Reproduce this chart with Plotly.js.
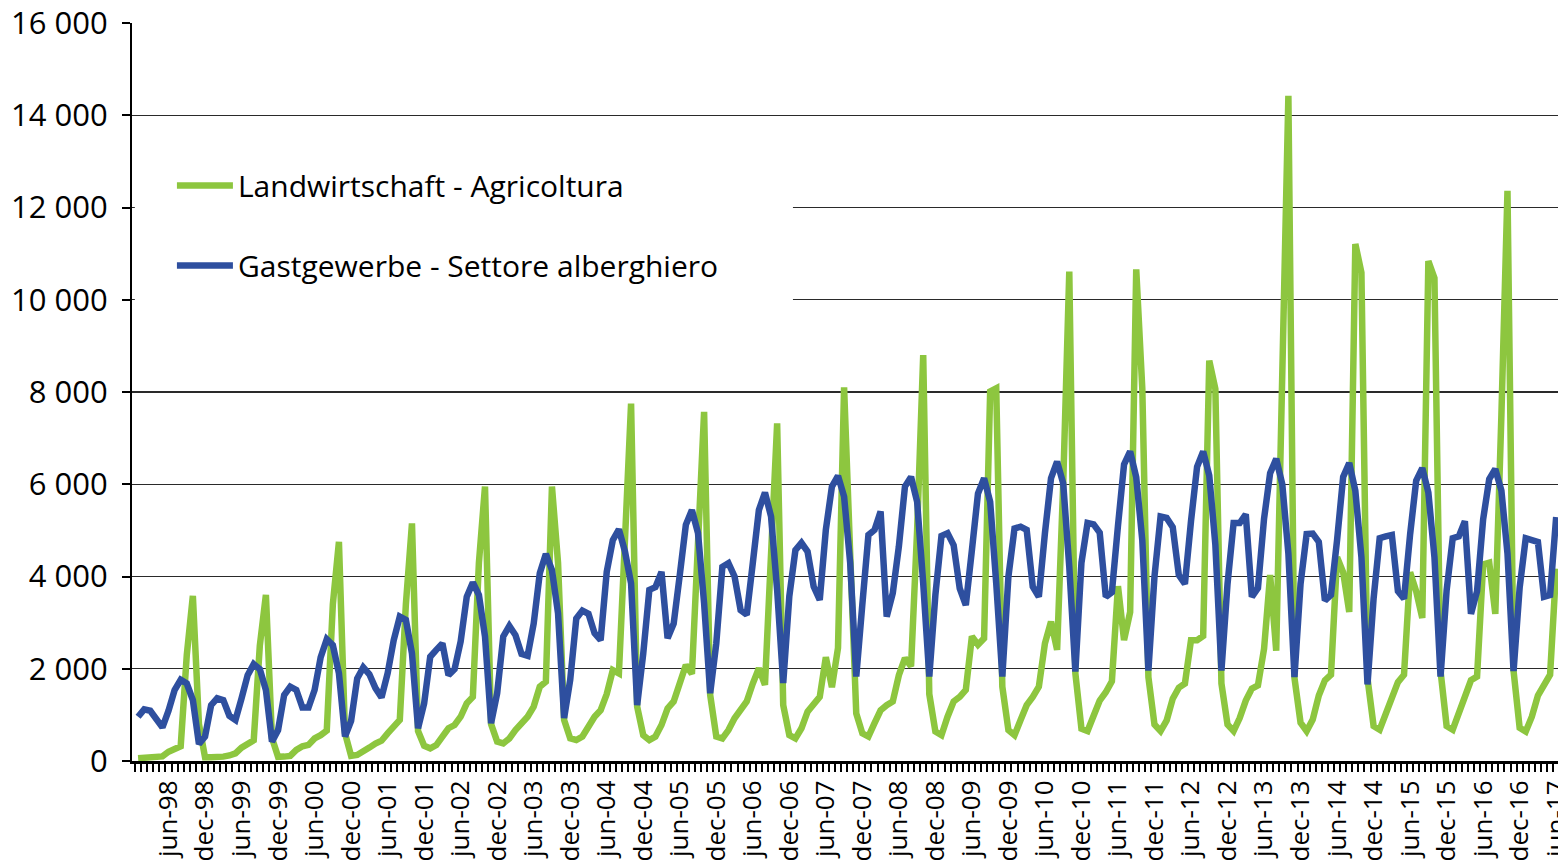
<!DOCTYPE html>
<html>
<head>
<meta charset="utf-8">
<script src="https://cdn.plot.ly/plotly-3.0.1.min.js"></script>
<style>
  html, body { margin: 0; padding: 0; background: #ffffff; }
  #chart { width: 1558px; height: 863px; }
</style>
</head>
<body>
<div id="chart"></div>
<script>
// ---- data (monthly, Jan 1998 - Jun 2017) ----
const monthNames = ['jan','feb','mar','apr','mai','jun','jul','aug','sep','okt','nov','dec'];
const years = [98,99,0,1,2,3,4,5,6,7,8,9,10,11,12,13,14,15,16,17];

const landwirtschaft = [
  60, 70, 80, 90, 100, 200, 270, 320, 2300, 3580, 800, 80,
  80, 80, 95, 120, 165, 290, 380, 450, 2500, 3600, 500, 90,
  95, 110, 240, 320, 350, 490, 560, 660, 3400, 4750, 600, 110,
  130, 200, 290, 380, 440, 600, 745, 890, 3400, 5150, 650, 330,
  275, 345, 530, 710, 780, 960, 1250, 1390, 4300, 5950, 800, 420,
  380, 490, 670, 820, 960, 1180, 1610, 1720, 5950, 4300, 890, 490,
  455, 530, 745, 960, 1100, 1450, 1970, 1900, 4800, 7750, 1180, 560,
  455, 530, 780, 1140, 1290, 1720, 2080, 1890, 4700, 7570, 1430, 530,
  490, 670, 925, 1140, 1290, 1680, 2010, 1650, 4400, 7320, 1210, 560,
  490, 710, 1070, 1210, 1390, 2250, 1600, 2450, 8100, 4500, 1030, 600,
  530, 820, 1100, 1210, 1290, 1860, 2230, 2050, 5000, 8800, 1450, 640,
  560, 960, 1290, 1390, 1540, 2700, 2520, 2660, 8010, 8080, 1610, 670,
  560, 890, 1210, 1390, 1610, 2550, 3020, 2410, 6000, 10610, 1900, 700,
  650, 980, 1310, 1490, 1730, 3790, 2620, 3230, 10660, 8070, 1820, 790,
  650, 880, 1350, 1590, 1680, 2620, 2620, 2710, 8680, 8070, 1680, 790,
  650, 930, 1310, 1570, 1640, 2430, 4030, 2390, 8000, 14420, 1800, 830,
  650, 900, 1420, 1750, 1870, 4420, 4090, 3230, 11210, 10590, 1790, 760,
  680, 1050, 1420, 1710, 1870, 4090, 3680, 3100, 10840, 10470, 1950, 760,
  680, 1050, 1460, 1750, 1830, 4260, 4300, 3190, 7500, 12360, 1950, 720,
  640, 960, 1420, 1620, 1870, 4170
];

const gastgewerbe = [
  960, 1120, 1090, 900, 730, 1090, 1540, 1760, 1680, 1320, 370, 530,
  1210, 1360, 1320, 980, 890, 1360, 1860, 2100, 1990, 1540, 420, 670,
  1430, 1610, 1540, 1160, 1160, 1540, 2250, 2640, 2510, 1900, 530, 870,
  1790, 2030, 1880, 1580, 1380, 1900, 2620, 3130, 3060, 2330, 710, 1250,
  2260, 2410, 2550, 1860, 1990, 2590, 3560, 3870, 3600, 2700, 820, 1470,
  2700, 2930, 2730, 2320, 2280, 2980, 4070, 4490, 4140, 3200, 930, 1760,
  3090, 3260, 3190, 2770, 2620, 4100, 4790, 5020, 4540, 3850, 1210, 2330,
  3710, 3770, 4100, 2660, 2980, 4030, 5120, 5440, 4940, 3420, 1470, 2550,
  4210, 4290, 4000, 3270, 3170, 4290, 5440, 5820, 5300, 3710, 1690, 3570,
  4570, 4730, 4540, 3780, 3490, 5010, 5950, 6180, 5730, 4300, 1830, 3400,
  4900, 5010, 5410, 3130, 3640, 4650, 5950, 6160, 5620, 3850, 1830, 3600,
  4880, 4940, 4680, 3740, 3380, 4570, 5800, 6130, 5620, 3850, 1830, 4000,
  5040, 5080, 5010, 3780, 3560, 4940, 6130, 6490, 6020, 4210, 1940, 4300,
  5160, 5130, 4950, 3560, 3660, 5100, 6430, 6710, 6150, 4780, 1960, 4000,
  5300, 5270, 5070, 4030, 3840, 5200, 6380, 6710, 6190, 4690, 1960, 3840,
  5160, 5160, 5350, 3560, 3750, 5250, 6240, 6550, 6000, 4500, 1820, 3840,
  4920, 4930, 4750, 3480, 3600, 4790, 6160, 6460, 5860, 4420, 1660, 3520,
  4830, 4870, 4900, 3680, 3520, 4910, 6080, 6350, 5820, 4420, 1830, 3700,
  4830, 4870, 5200, 3190, 3680, 5240, 6110, 6330, 5860, 4500, 1950, 3760,
  4830, 4790, 4750, 3560, 3600, 5290
];

const seriesNames = ['Landwirtschaft - Agricoltura', 'Gastgewerbe - Settore alberghiero'];

// month category labels
const months = [];
years.forEach(y => {
  const yy = String(y).padStart(2, '0');
  monthNames.forEach(m => months.push(m + '-' + yy));
});
months.length = landwirtschaft.length;

// axis labels: every June and December
const tickLabels = months.filter(m => m.startsWith('jun') || m.startsWith('dec'));
const tickPos = tickLabels.map(l => months.indexOf(l));
const xIndex = months.map((m, i) => i);

const yTicks = [0, 2000, 4000, 6000, 8000, 10000, 12000, 14000, 16000];

const FONT = '"Open Sans", "Noto Sans", sans-serif';

const traces = [
  {
    x: xIndex, y: landwirtschaft, text: months, name: seriesNames[0],
    type: 'scatter', mode: 'lines', legendgroup: 'a',
    line: { color: '#8dc63f', width: 6.5 }
  },
  {
    x: xIndex, y: gastgewerbe, text: months, name: seriesNames[1],
    type: 'scatter', mode: 'lines', legendgroup: 'b',
    line: { color: '#2e4f9f', width: 6.5 }
  }
];

const layout = {
  width: 1558, height: 863,
  margin: { l: 132, r: 0, t: 23, b: 102, pad: 0 },
  paper_bgcolor: '#ffffff', plot_bgcolor: '#ffffff',
  separators: ', ',
  font: { family: FONT, color: '#000000' },
  showlegend: true,
  legend: {
    x: 0.028, y: 0.815, xanchor: 'left', yanchor: 'top',
    bgcolor: 'rgba(0,0,0,0)', borderwidth: 0,
    font: { family: FONT, size: 30, color: '#000' },
    tracegroupgap: 38, itemwidth: 56
  },
  xaxis: {
    type: 'linear', range: [-1, 233.3],
    showgrid: false, zeroline: false,
    showline: true, linecolor: '#000', linewidth: 3,
    tickmode: 'array', tickvals: tickPos, ticktext: tickLabels,
    ticks: '', tickangle: -90,
    tickfont: { family: FONT, size: 26, color: '#000' },
    ticklabelstandoff: 6,
    ticklabeloverflow: 'allow',
    minor: { ticks: 'outside', tick0: 0.5, dtick: 1, ticklen: 8, tickwidth: 2, tickcolor: '#000', showgrid: false }
  },
  yaxis: {
    range: [0, 16000],
    tickmode: 'array', tickvals: yTicks,
    tickformat: ',d',
    showgrid: true, gridcolor: '#2a2a2a', gridwidth: 1.2,
    zeroline: false,
    showline: true, linecolor: '#000', linewidth: 2,
    ticks: 'outside', ticklen: 8, tickwidth: 2, tickcolor: '#000',
    tickfont: { family: FONT, size: 31, color: '#000' },
    ticklabelstandoff: 8
  },
  shapes: [
    { type: 'rect', xref: 'paper', yref: 'y', x0: 0.002, x1: 0.4635, y0: 9500, y1: 13300,
      fillcolor: '#ffffff', line: { width: 0 }, layer: 'above' }
  ]
};

Plotly.newPlot('chart', traces, layout, { displayModeBar: false, staticPlot: true });
</script>
</body>
</html>
